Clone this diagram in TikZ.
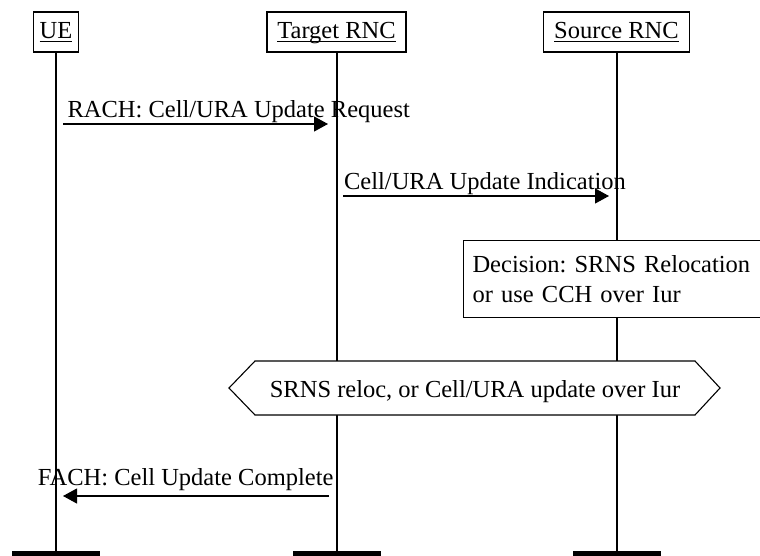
\documentclass[tikz,border=0pt]{standalone}
\usepackage{fontspec}
\setmainfont{Liberation Serif}
\usetikzlibrary{arrows.meta}
\newcommand{\msgfont}{\fontsize{12.25}{15}\selectfont\frenchspacing}
\newcommand{\entname}[1]{\underline{\smash{#1}}}
\newcommand{\linew}{0.55pt}
\newcommand{\tipl}{7pt}
\newcommand{\tipw}{7.5pt}
\tikzset{
	entity/.style={draw, line width=\linew, minimum height=20pt, inner xsep=5.2pt, inner ysep=0pt,
		text height=8pt, text depth=1pt, font=\msgfont},
	endbar/.style={fill=black, draw=none, minimum width=44pt, minimum height=2.6pt, inner sep=0pt},
	lifeline/.style={line width=\linew},
	msg/.style={line width=\linew, -{Triangle[length=\tipl, width=\tipw]}},
	msglabel/.style={inner sep=0pt, font=\msgfont},
	actionbox/.style={draw, fill=white, line width=\linew, font=\msgfont}
}

\begin{document}
\begin{tikzpicture}[x=0.5pt, y=-0.5pt]
			\useasboundingbox (0, 0) rectangle (760, 556);
			\clip (0, 0) rectangle (760, 556);

			% entities
			\node[entity, inner xsep=3.3pt] (ue) at (56, 32) {\entname{UE}};
			\node[entity] (trnc) at (336.5, 32) {\entname{Target RNC}};
			\node[entity] (srnc) at (616.5, 32) {\entname{Source RNC}};

			\node[endbar] (uebar) at (56, 553.5) {};
			\node[endbar] (trncbar) at (337, 553.5) {};
			\node[endbar] (srncbar) at (617, 553.5) {};

			\draw[lifeline] (ue.south -| uebar) -- (uebar.north);
			\draw[lifeline] (trnc.south -| trncbar) -- (trncbar.north);
			\draw[lifeline] (srnc.south -| srncbar) -- (srncbar.north);

			% messages
			\draw[msg, shorten <=3.5pt, shorten >=4.5pt]
				(uebar |- 0, 124) -- (trncbar |- 0, 124)
				node[msglabel, pos=0, anchor=base west, xshift=5.5pt, yshift=3pt] {RACH: Cell/URA Update Request};
			\draw[msg, shorten <=3pt, shorten >=4pt]
				(trncbar |- 0, 196) -- (srncbar |- 0, 196)
				node[msglabel, pos=0, anchor=base west, xshift=3.3pt, yshift=3.5pt] {Cell/URA Update Indication};

			% decision
			\node[actionbox, anchor=north west, text width=151pt, align=left, inner xsep=4.5pt,
				minimum height=38.5pt] (decision) at (463, 240)
				{Decision: SRNS Relocation\\or use CCH over Iur};

			% procedure over Iur
			\filldraw[actionbox] (229, 388) -- (255, 361) -- (695, 361) -- (720, 388)
				-- (695, 415) -- (255, 415) -- cycle;
			\node[msglabel, anchor=base] (iur) at (475, 397) {SRNS reloc, or Cell/URA update over Iur};

			\draw[msg, shorten <=4pt, shorten >=3.5pt]
				(trncbar |- 0, 496) -- (uebar |- 0, 496)
				node[msglabel, pos=0, anchor=base east, xshift=-1.5pt, yshift=5.5pt] {FACH: Cell Update Complete};

		\end{tikzpicture}
\end{document}
